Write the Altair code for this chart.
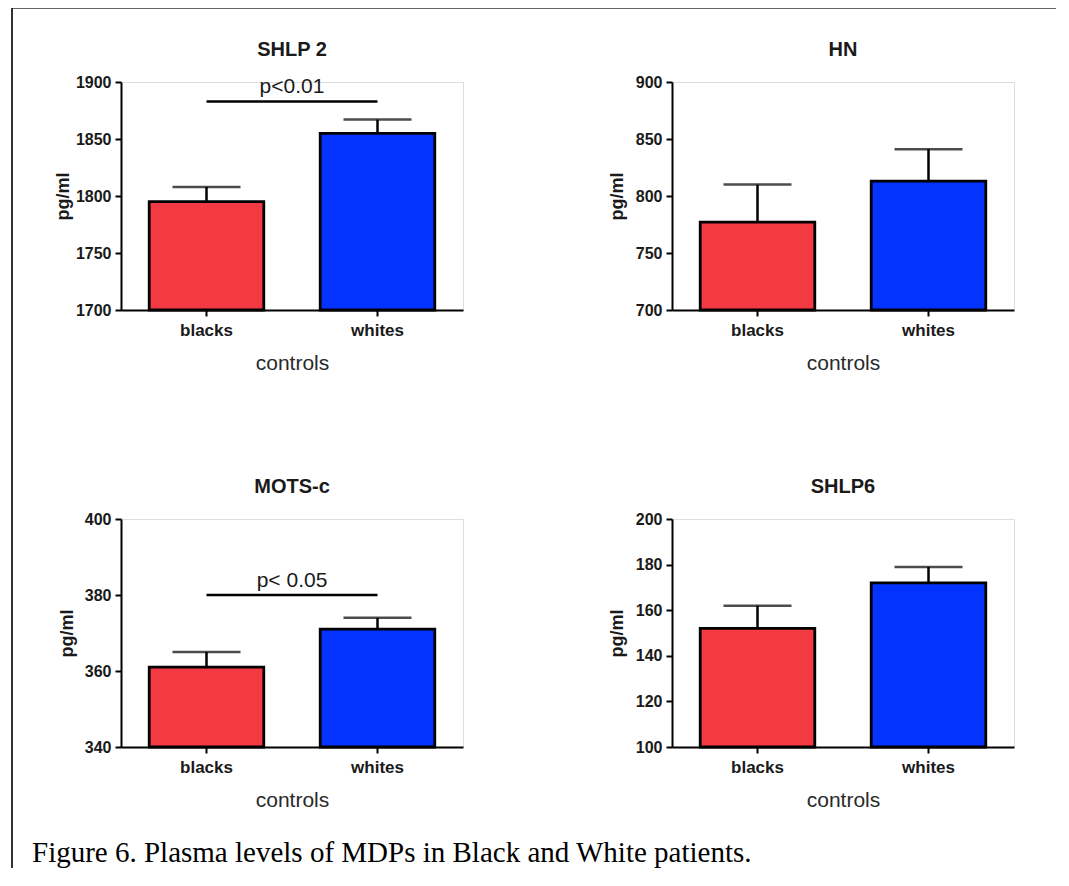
import altair as alt
import pandas as pd

# ---------------- data ----------------
categories = ["blacks", "whites"]
bar_colors = ["#F33A42", "#0433FF"]

panel_titles = ["SHLP 2", "HN", "MOTS-c", "SHLP6"]

shlp2_mean = [1795, 1855]
shlp2_upper = [1808, 1867]
hn_mean = [777, 813]
hn_upper = [810, 841]
mots_mean = [361, 371]
mots_upper = [365, 374]
shlp6_mean = [152, 172]
shlp6_upper = [162, 179]

shlp2_domain = [1700, 1900]
hn_domain = [700, 900]
mots_domain = [340, 400]
shlp6_domain = [100, 200]

shlp2_ticks = [1700, 1750, 1800, 1850, 1900]
hn_ticks = [700, 750, 800, 850, 900]
mots_ticks = [340, 360, 380, 400]
shlp6_ticks = [100, 120, 140, 160, 180, 200]

sig_text = {"SHLP 2": "p<0.01", "MOTS-c": "p< 0.05"}
sig_level = {"SHLP 2": 1883, "MOTS-c": 380}

caption = "Figure 6. Plasma levels of MDPs in Black and White patients."
y_label = "pg/ml"
x_label = "controls"

W, H = 342, 228
GAP = 209
SANS = "Liberation Sans"


def panel(title, means, uppers, domain, ticks, title_pad):
    df = pd.DataFrame({"cat": categories, "mean": means, "upper": uppers})
    xenc = alt.X(
        "cat:N",
        sort=categories,
        scale=alt.Scale(paddingInner=0.33, paddingOuter=0.165),
        axis=alt.Axis(
            title=x_label,
            labelAngle=0,
            labelFont=SANS,
            labelFontSize=17,
            labelFontWeight="bold",
            labelColor="#1a1a1a",
            labelPadding=6,
            titleFont=SANS,
            titleFontSize=21,
            titleFontWeight="normal",
            titleColor="#2a2a2a",
            titlePadding=14,
            domainColor="black",
            domainWidth=2,
            tickColor="black",
            tickWidth=2,
            tickSize=6,
        ),
    )
    yscale = alt.Scale(domain=domain, zero=False, nice=False)
    yaxis = alt.Axis(
        title=y_label,
        values=ticks,
        format="d",
        grid=False,
        labelFont=SANS,
        labelFontSize=16,
        labelFontWeight="bold",
        labelColor="#1a1a1a",
        labelPadding=4,
        titleFont=SANS,
        titleFontSize=18,
        titleFontWeight="bold",
        titleColor="#1a1a1a",
        titlePadding=title_pad,
        domainColor="black",
        domainWidth=2,
        tickColor="black",
        tickWidth=2,
        tickSize=6,
    )
    base = alt.Chart(df)
    bars = base.mark_bar(stroke="black", strokeWidth=2.8).encode(
        x=xenc,
        y=alt.Y("mean:Q", scale=yscale, axis=yaxis),
        y2=alt.datum(domain[0]),
        color=alt.Color("cat:N", scale=alt.Scale(domain=categories, range=bar_colors), legend=None),
    )
    stems = base.mark_rule(color="black", strokeWidth=2.5).encode(
        x=alt.X("cat:N", sort=categories),
        y=alt.Y("mean:Q", scale=yscale),
        y2="upper:Q",
    )
    caps = base.mark_tick(color="black", thickness=2.5, size=68).encode(
        x=alt.X("cat:N", sort=categories),
        y=alt.Y("upper:Q", scale=yscale),
    )
    layers = [bars, stems, caps]
    if title in sig_text:
        sdf = pd.DataFrame({"a": [categories[0]], "b": [categories[1]],
                            "lvl": [sig_level[title]], "txt": [sig_text[title]]})
        sbase = alt.Chart(sdf)
        line = sbase.mark_rule(color="black", strokeWidth=2.5).encode(
            x=alt.X("a:N", sort=categories),
            x2="b:N",
            y=alt.Y("lvl:Q", scale=yscale),
        )
        txt = sbase.mark_text(font=SANS, fontSize=21, color="#1a1a1a",
                              baseline="bottom", align="center", dy=-4).encode(
            x=alt.value(W / 2),
            y=alt.Y("lvl:Q", scale=yscale),
            text="txt:N",
        )
        layers += [line, txt]
    return alt.layer(*layers).properties(
        width=W,
        height=H,
        title=alt.TitleParams(title, font=SANS, fontSize=20, fontWeight="bold",
                              color="#1a1a1a", frame="group", anchor="middle",
                              baseline="bottom", offset=-6),
    )


p1 = panel("SHLP 2", shlp2_mean, shlp2_upper, shlp2_domain, shlp2_ticks, 3)
p2 = panel("HN", hn_mean, hn_upper, hn_domain, hn_ticks, 9)
p3 = panel("MOTS-c", mots_mean, mots_upper, mots_domain, mots_ticks, 8)
p4 = panel("SHLP6", shlp6_mean, shlp6_upper, shlp6_domain, shlp6_ticks, 9)

# frame and caption (decoration) in a tiny extra cell below the grid, unclipped
ROW3 = 2 * (H + GAP)  # vertical offset of the extra cell relative to panel 1
one = pd.DataFrame({"t": [caption]})
frame_left = alt.Chart(one).mark_rule(color="#333", strokeWidth=2, clip=False).encode(
    x=alt.value(-109), y=alt.value(-74 - ROW3), y2=alt.value(786 - ROW3))
frame_top = alt.Chart(one).mark_rule(color="#333", strokeWidth=1.5, clip=False).encode(
    x=alt.value(-109), x2=alt.value(935), y=alt.value(-74 - ROW3))
cap_text = alt.Chart(one).mark_text(font="Liberation Serif", fontSize=29, color="black",
                                   align="left", baseline="middle", clip=False).encode(
    x=alt.value(-89), y=alt.value(771 - ROW3), text="t:N")
deco = alt.layer(frame_left, frame_top, cap_text).properties(width=1, height=1)

chart = alt.concat(p1, p2, p3, p4, deco, columns=2, spacing=GAP, bounds="flush").properties(
    padding={"left": 2, "top": -2, "right": 0, "bottom": 0}
).configure_view(stroke=None).configure(background="white")

chart.save("out.html", embed_options={"renderer": "svg", "actions": False})
